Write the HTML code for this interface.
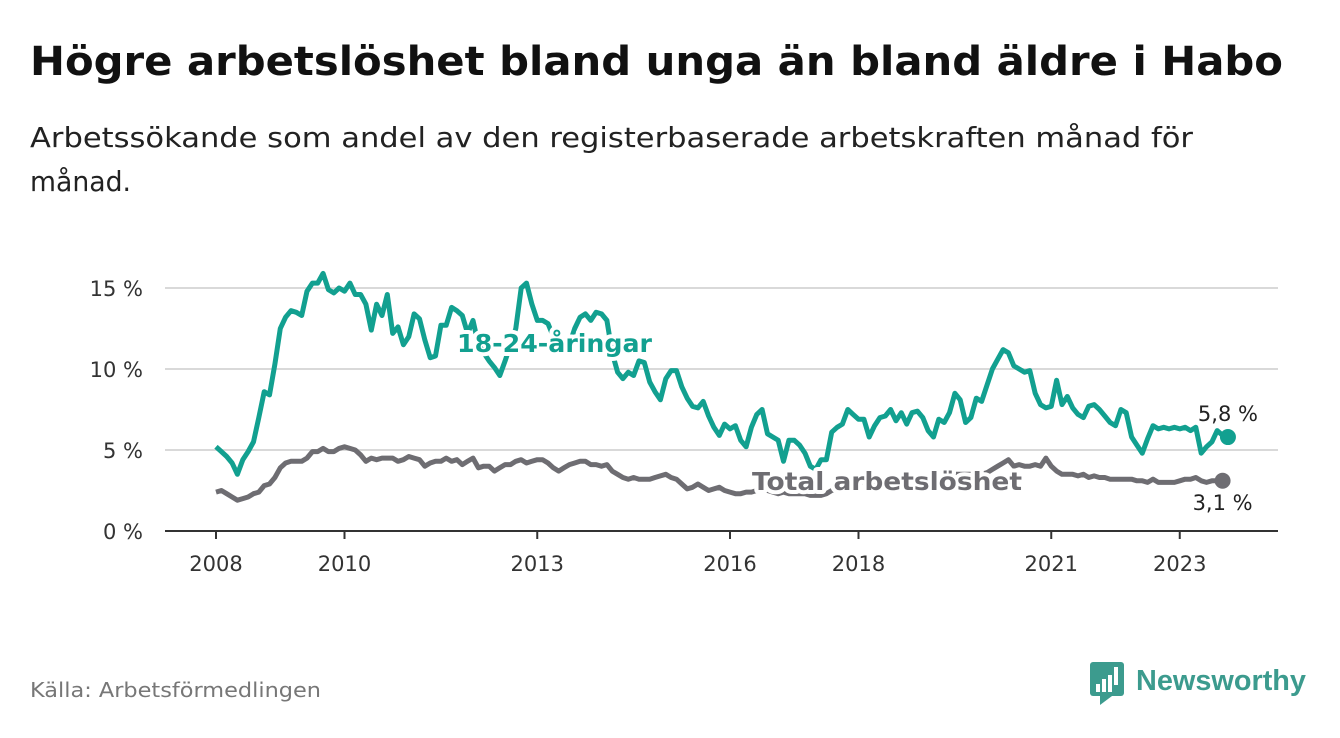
<!DOCTYPE html>
<html><head><meta charset="utf-8">
<style>
body{margin:0;width:1340px;height:734px;background:#fff;overflow:hidden;font-family:"DejaVu Sans","Liberation Sans",sans-serif;}
</style></head>
<body>
<svg width="1340" height="734" viewBox="0 0 1340 734" xmlns="http://www.w3.org/2000/svg" id="chart" font-family="DejaVu Sans, Liberation Sans, sans-serif">
<text x="30" y="75" font-size="40" font-weight="bold" fill="#111" textLength="1253" lengthAdjust="spacingAndGlyphs">Högre arbetslöshet bland unga än bland äldre i Habo</text>
<text x="30" y="147" font-size="28" fill="#222" textLength="1163" lengthAdjust="spacingAndGlyphs">Arbetssökande som andel av den registerbaserade arbetskraften månad för</text>
<text x="30" y="191" font-size="28" fill="#222" textLength="101" lengthAdjust="spacingAndGlyphs">månad.</text>
<g id="grid"></g>
<g id="lines"></g>
<text x="30" y="697" font-size="20" fill="#777" textLength="291" lengthAdjust="spacingAndGlyphs">Källa: Arbetsförmedlingen</text>
<g>
<rect x="1090" y="662" width="34" height="34" rx="3" fill="#3c9b8e"/>
<polygon points="1100,696 1112,696 1100,705" fill="#3c9b8e"/>
<rect x="1096" y="684" width="4" height="8" fill="#fff"/><rect x="1102" y="679" width="4" height="13" fill="#fff"/><rect x="1108" y="675" width="4" height="17" fill="#fff"/><rect x="1114" y="667" width="4" height="18" fill="#fff"/>
<text x="1136" y="690" font-size="29" font-weight="bold" fill="#3c9b8e" font-family="Liberation Sans, sans-serif" textLength="170" lengthAdjust="spacingAndGlyphs">Newsworthy</text>
</g>
</svg>
<script>
const yTicks=[0,5,10,15];
const xTickYears=[2008,2010,2013,2016,2018,2021,2023];
const youth=[5.2,4.9,4.6,4.2,3.5,4.4,4.9,5.5,7.0,8.6,8.4,10.3,
12.5,13.2,13.6,13.5,13.3,14.8,15.3,15.3,15.9,14.9,14.7,15.0,
14.8,15.3,14.6,14.6,14.0,12.4,14.0,13.3,14.6,12.2,12.6,11.5,
12.0,13.4,13.1,11.8,10.7,10.8,12.7,12.7,13.8,13.6,13.3,12.2,
13.0,11.5,11.0,10.5,10.1,9.6,10.5,11.5,12.5,15.0,15.3,14.0,
13.0,13.0,12.8,12.0,11.5,11.0,11.5,12.5,13.2,13.4,13.0,13.5,
13.4,13.0,11.0,9.8,9.4,9.8,9.6,10.5,10.4,9.2,8.6,8.1,
9.4,9.9,9.9,8.9,8.2,7.7,7.6,8.0,7.1,6.4,5.9,6.6,
6.3,6.5,5.6,5.2,6.4,7.2,7.5,6.0,5.8,5.6,4.3,5.6,
5.6,5.3,4.8,4.0,3.8,4.4,4.4,6.1,6.4,6.6,7.5,7.2,
6.9,6.9,5.8,6.5,7.0,7.1,7.5,6.8,7.3,6.6,7.3,7.4,
7.0,6.2,5.8,6.9,6.7,7.3,8.5,8.1,6.7,7.0,8.2,8.0,
9.0,10.0,10.6,11.2,11.0,10.2,10.0,9.8,9.9,8.5,7.8,7.6,
7.7,9.3,7.8,8.3,7.6,7.2,7.0,7.7,7.8,7.5,7.1,6.7,
6.5,7.5,7.3,5.8,5.3,4.8,5.7,6.5,6.3,6.4,6.3,6.4,
6.3,6.4,6.2,6.4,4.8,5.2,5.5,6.2,5.9,5.8];
const total=[2.4,2.5,2.3,2.1,1.9,2.0,2.1,2.3,2.4,2.8,2.9,3.3,
3.9,4.2,4.3,4.3,4.3,4.5,4.9,4.9,5.1,4.9,4.9,5.1,
5.2,5.1,5.0,4.7,4.3,4.5,4.4,4.5,4.5,4.5,4.3,4.4,
4.6,4.5,4.4,4.0,4.2,4.3,4.3,4.5,4.3,4.4,4.1,4.3,
4.5,3.9,4.0,4.0,3.7,3.9,4.1,4.1,4.3,4.4,4.2,4.3,
4.4,4.4,4.2,3.9,3.7,3.9,4.1,4.2,4.3,4.3,4.1,4.1,
4.0,4.1,3.7,3.5,3.3,3.2,3.3,3.2,3.2,3.2,3.3,3.4,
3.5,3.3,3.2,2.9,2.6,2.7,2.9,2.7,2.5,2.6,2.7,2.5,
2.4,2.3,2.3,2.4,2.4,2.5,2.5,2.5,2.4,2.3,2.4,2.3,
2.3,2.3,2.3,2.2,2.2,2.2,2.3,2.5,2.6,2.7,2.8,2.9,
3.0,3.0,3.1,3.1,3.2,3.2,3.2,3.3,3.3,3.3,3.3,3.3,
3.3,3.3,3.3,3.4,3.4,3.4,3.5,3.5,3.5,3.5,3.6,3.5,
3.6,3.8,4.0,4.2,4.4,4.0,4.1,4.0,4.0,4.1,4.0,4.5,
4.0,3.7,3.5,3.5,3.5,3.4,3.5,3.3,3.4,3.3,3.3,3.2,
3.2,3.2,3.2,3.2,3.1,3.1,3.0,3.2,3.0,3.0,3.0,3.0,
3.1,3.2,3.2,3.3,3.1,3.0,3.1,3.1,3.1];
const endLabels=["5,8 %","3,1 %"];
const NS="http://www.w3.org/2000/svg";
const x0=216,pxYear=64.25;
function xm(i){return x0+i*pxYear/12;}
function xy(yr){return x0+(yr-2008)*pxYear;}
function ys(v){return 531-v*16.2;}
function mk(tag,attrs,parent){const e=document.createElementNS(NS,tag);for(const k in attrs)e.setAttribute(k,attrs[k]);parent.appendChild(e);return e;}
const grid=document.getElementById('grid'),lines=document.getElementById('lines');
yTicks.forEach(t=>{
  if(t>0){const g=mk('line',{x1:165,x2:1278,y1:ys(t),y2:ys(t),stroke:'#d9d9d9','stroke-width':2},grid);
  
  }
  const l=mk('text',{x:143,y:ys(t)+8,'font-size':21,'text-anchor':'end',fill:'#333'},grid);
  l.textContent=t+' %';
  
  
});
const ax=mk('line',{x1:165,x2:1278,y1:531,y2:531,stroke:'#333','stroke-width':2},grid);


xTickYears.forEach(yr=>{
  const x=xy(yr);
  const t=mk('line',{x1:x,x2:x,y1:531,y2:539,stroke:'#333','stroke-width':2},grid);
  
  
  const l=mk('text',{x:x,y:571,'font-size':21,'text-anchor':'middle',fill:'#333'},grid);
  l.textContent=yr;
  
  
});
function draw(arr,color,name){
  const d=arr.map((v,i)=>(i?'L':'M')+xm(i).toFixed(1)+','+ys(v).toFixed(1)).join('');
  const p=mk('path',{d:d,fill:'none',stroke:color,'stroke-width':5,'stroke-linejoin':'round'},lines);
  
  
  const n=arr.length-1;
  const c=mk('circle',{cx:xm(n),cy:ys(arr[n]),r:8,fill:color},lines);
  
  
}
draw(total,'#6e6d72','total');
draw(youth,'#12a090','youth');
function label(txt,x,y,color,size,bold,anchor,name,len){
  const a={x:x,y:y,'font-size':size,'font-weight':bold?'bold':'normal',fill:color,'text-anchor':anchor,stroke:'#fff','stroke-width':bold?8:0,'paint-order':'stroke','stroke-linejoin':'round'};
  if(len){a.textLength=len;a.lengthAdjust='spacingAndGlyphs';}
  const t=mk('text',a,lines);
  t.textContent=txt;
  
  
}
label('18-24-åringar',457,352,'#12a090',25,true,'start','youth-series-label',195);
label('Total arbetslöshet',752,490,'#6e6d72',25,true,'start','total-series-label',270);
label(endLabels[0],xm(youth.length-1),ys(youth[youth.length-1])-16,'#222',21,false,'middle','youth-end-value');
label(endLabels[1],xm(total.length-1),ys(total[total.length-1])+29,'#222',21,false,'middle','total-end-value');
</script>
</body></html>
